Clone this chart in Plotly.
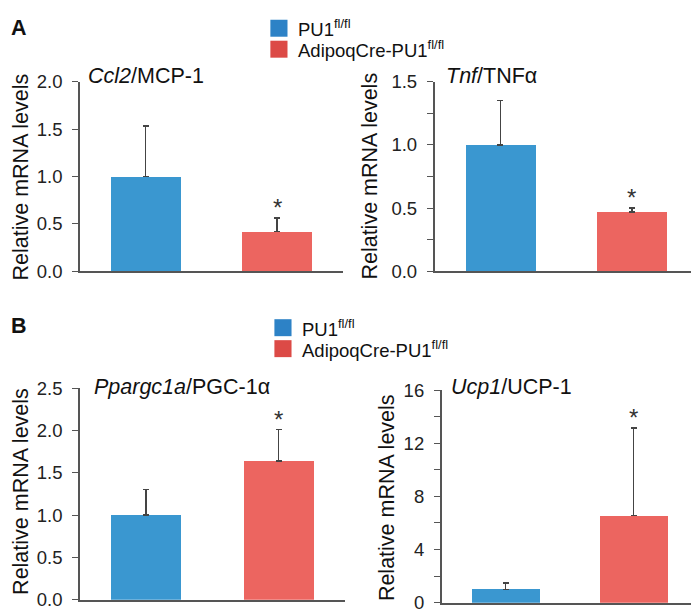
import plotly.graph_objects as go

legend_labels = ["PU1<sup>fl/fl</sup>", "AdipoqCre-PU1<sup>fl/fl</sup>"]

# Panel A
ccl2_mean = [1.0, 0.42]
ccl2_err = [0.53, 0.14]
tnf_mean = [1.0, 0.47]
tnf_err = [0.35, 0.03]
# Panel B
ppargc1a_mean = [1.0, 1.64]
ppargc1a_err = [0.30, 0.37]
ucp1_mean = [1.0, 6.55]
ucp1_err = [0.50, 6.6]

sig = [False, True]

titles = ["<i>Ccl2</i>/MCP-1", "<i>Tnf</i>/TNFα", "<i>Ppargc1a</i>/PGC-1α", "<i>Ucp1</i>/UCP-1"]

FW, FH = 699, 613
# measured mapping of the photographed page: picture = offset + scale * figure px
SX, OX = 0.9925, 5.6
SY, OY = 0.9675, 17.25
BAR_COLORS = ["#3a97d0", "#ec6560"]
LEG_COLORS = ["#2d82c6", "#dc4a46"]
FONT = "Liberation Sans, Arial, sans-serif"
AXC = "#555555"


def fx(p):
    return max(0.0, (p - OX) / SX)


def fy(p):
    return max(0.0, (p - OY) / SY)


def px_x(p):
    return min(1.0, fx(p) / FW)


def px_y(p):
    return max(0.0, 1 - fy(p) / FH)


panels = [
    dict(mean=ccl2_mean, err=ccl2_err, rng=[0, 2.0], dtick=0.5, minor=None,
         xd=[77, 338], yd=[80, 270], title_xy=(83, 74), ytitle_xy=(18.5, 175)),
    dict(mean=tnf_mean, err=tnf_err, rng=[0, 1.5], dtick=0.5, minor=0.25,
         xd=[429, 690], yd=[80, 270], title_xy=(438, 74), ytitle_xy=(365, 175)),
    dict(mean=ppargc1a_mean, err=ppargc1a_err, rng=[0, 2.5], dtick=0.5, minor=None,
         xd=[77, 340], yd=[387, 599], title_xy=(89, 386), ytitle_xy=(18.5, 490)),
    dict(mean=ucp1_mean, err=ucp1_err, rng=[0, 16], dtick=4, minor=2,
         xd=[436, 690], yd=[389, 602], title_xy=(443, 386), ytitle_xy=(382, 497)),
]

fig = go.Figure()
annotations = []
shapes = []

for i, p in enumerate(panels):
    n = "" if i == 0 else str(i + 1)
    xa, ya = "x" + n, "y" + n
    fig.add_trace(go.Bar(
        x=[0, 1], y=p["mean"], xaxis=xa, yaxis=ya,
        marker=dict(color=BAR_COLORS, line=dict(width=0)),
        width=0.53,
        error_y=dict(type="data", symmetric=False, array=p["err"], arrayminus=[0, 0],
                     color="#444444", thickness=1.5, width=3),
        showlegend=False, hoverinfo="skip",
    ))
    fig.layout["xaxis" + n] = dict(
        domain=[px_x(p["xd"][0]), px_x(p["xd"][1])], anchor=ya,
        range=[-0.5, 1.5], showline=True, linecolor=AXC, linewidth=1.5,
        showticklabels=False, ticks="", showgrid=False, zeroline=False, fixedrange=True,
    )
    yax = dict(
        domain=[px_y(p["yd"][1]), px_y(p["yd"][0])], anchor=xa,
        range=p["rng"], tick0=0, dtick=p["dtick"], tickformat=".1f" if p["dtick"] < 1 else "d",
        showline=True, linecolor=AXC, linewidth=1.5, ticks="outside", ticklen=6,
        tickwidth=1.3, tickcolor=AXC, showgrid=False, zeroline=False,
        tickfont=dict(family=FONT, size=18.5, color="#222222"), ticklabelstandoff=6,
        fixedrange=True,
    )
    if p["minor"]:
        yax["minor"] = dict(dtick=p["minor"], tick0=0, ticks="outside", ticklen=6,
                            tickwidth=1.3, tickcolor=AXC, showgrid=False)
    fig.layout["yaxis" + n] = yax
    annotations.append(dict(
        text=titles[i], xref="paper", yref="paper",
        x=px_x(p["title_xy"][0]), y=px_y(p["title_xy"][1]),
        xanchor="left", yanchor="middle", showarrow=False,
        font=dict(family=FONT, size=21.5, color="#111111"),
    ))
    annotations.append(dict(
        text="Relative mRNA levels", xref="paper", yref="paper",
        x=px_x(p["ytitle_xy"][0]), y=px_y(p["ytitle_xy"][1]),
        xanchor="center", yanchor="middle", textangle=-90, showarrow=False,
        font=dict(family=FONT, size=21.5, color="#111111"),
    ))
    for k in range(2):
        if sig[k]:
            annotations.append(dict(
                text="*", xref=xa, yref=ya, x=k, y=p["mean"][k] + p["err"][k],
                xanchor="center", yanchor="bottom", yshift=-5, showarrow=False,
                font=dict(family=FONT, size=24, color="#333333"),
            ))

for letter, (lx, ly) in [("A", (7, 26)), ("B", (7, 325))]:
    annotations.append(dict(
        text="<b>%s</b>" % letter, xref="paper", yref="paper",
        x=px_x(lx), y=px_y(ly), xanchor="left", yanchor="middle", showarrow=False,
        font=dict(family=FONT, size=21.5, color="#111111"),
    ))

for (sx, sy) in [(266, 18), (270, 318)]:
    for k in range(2):
        y0 = sy + k * 21
        shapes.append(dict(
            type="rect", xref="paper", yref="paper",
            x0=px_x(sx), x1=px_x(sx + 17), y0=px_y(y0 + 17), y1=px_y(y0),
            fillcolor=LEG_COLORS[k], line=dict(width=0),
        ))
        annotations.append(dict(
            text=legend_labels[k], xref="paper", yref="paper",
            x=px_x(sx + 25), y=px_y(y0 + 8.5), xanchor="left", yanchor="middle",
            showarrow=False, font=dict(family=FONT, size=18.5, color="#111111"),
        ))

fig.update_layout(
    width=FW, height=FH, autosize=False, margin=dict(l=0, r=0, t=0, b=0),
    paper_bgcolor="white", plot_bgcolor="white",
    annotations=annotations, shapes=shapes, bargap=0,
)

fig.write_html("out.html")
